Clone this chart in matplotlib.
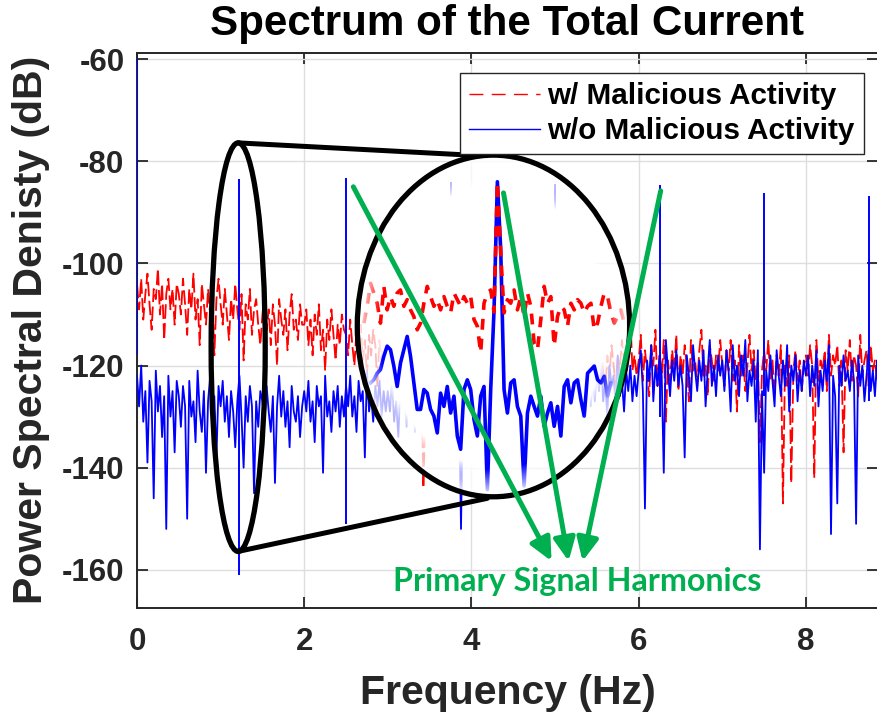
import numpy as np
import matplotlib
matplotlib.use('Agg')
import matplotlib.pyplot as plt
from matplotlib.patches import Ellipse
from matplotlib.lines import Line2D

plt.rcParams['font.family'] = ['Liberation Sans', 'DejaVu Sans']
plt.rcParams['font.weight'] = 'bold'
plt.rcParams['axes.unicode_minus'] = False

# ---- spectrum values (dB), one value every 0.025 Hz starting at 0 Hz ----
freq_step = 0.025
red_db = [
    -104, -109, -103, -111, -106, -102, -108, -113, -105, -107, -101, -110, -104, -115, -106, -103, -109, -105, -112, -104,
    -106, -110, -103, -108, -114, -105, -109, -102, -111, -107, -116, -104, -108, -112, -105, -110, -106, -118, -107, -103,
    -108, -112, -105, -110, -115, -107, -111, -104, -109, -113, -106, -119, -108, -111, -105, -114, -109, -107, -112, -116,
    -110, -106, -113, -109, -116, -108, -112, -120, -107, -111, -114, -109, -117, -110, -106, -113, -111, -115, -108, -112,
    -112, -109, -116, -111, -118, -110, -114, -108, -117, -113, -121, -111, -115, -109, -114, -119, -112, -116, -110, -113,
    -114, -118, -111, -116, -120, -113, -117, -112, -119, -115, -122, -114, -118, -113, -116, -124, -115, -119, -113, -117,
    -116, -120, -114, -118, -113, -121, -117, -115, -126, -118, -114, -119, -116, -122, -117, -115, -120, -144, -128, -116,
    -117, -121, -115, -119, -114, -123, -118, -116, -120, -117, -125, -115, -119, -118, -122, -116, -120, -117, -121, -118,
    -118, -122, -116, -120, -115, -124, -119, -117, -121, -118, -126, -116, -120, -119, -123, -117, -121, -118, -122, -119,
    -119, -123, -117, -121, -116, -125, -120, -118, -122, -119, -127, -117, -121, -120, -124, -118, -122, -119, -123, -120,
    -120, -116, -124, -118, -122, -119, -126, -117, -121, -115, -123, -120, -118, -125, -119, -122, -116, -121, -124, -118,
    -119, -123, -117, -121, -125, -118, -122, -116, -120, -124, -118, -121, -115, -119, -123, -117, -110, -121, -118, -122,
    -119, -114, -123, -117, -121, -126, -116, -120, -113, -124, -118, -122, -115, -131, -119, -123, -117, -121, -114, -125,
    -118, -122, -116, -120, -127, -115, -121, -119, -124, -117, -113, -122, -120, -126, -116, -119, -123, -118, -121, -115,
    -120, -124, -117, -121, -115, -123, -119, -129, -116, -122, -118, -125, -120, -114, -121, -117, -123, -119, -135, -121,
    -117, -121, -115, -123, -119, -126, -118, -122, -116, -147, -120, -124, -118, -143, -121, -117, -123, -119, -125, -120,
    -118, -122, -116, -120, -142, -115, -123, -119, -121, -117, -125, -114, -122, -118, -120, -116, -124, -119, -137, -117,
    -121, -115, -123, -118, -120, -126, -114, -122, -119, -117, -124, -116, -121, -119, -123, -118,
]
blue_db = [
    -122, -128, -120, -131, -125, -139, -123, -127, -146, -121, -129, -124, -134, -126, -152, -122, -130, -125, -137, -123,
    -126, -132, -124, -128, -150, -123, -130, -127, -135, -121, -129, -133, -125, -141, -127, -122, -131, -126, -138, -124,
    -128, -123, -131, -126, -134, -125, -129, -136, -127, -122, -130, -140, -126, -131, -124, -128, -145, -127, -132, -125,
    -127, -131, -124, -129, -133, -126, -143, -128, -122, -130, -125, -132, -127, -136, -124, -129, -131, -126, -134, -128,
    -125, -129, -123, -131, -127, -135, -124, -128, -126, -141, -122, -130, -127, -133, -125, -129, -124, -132, -126, -130,
    -124, -128, -122, -130, -126, -133, -123, -127, -125, -138, -121, -129, -126, -131, -124, -128, -123, -130, -125, -129,
    -125, -129, -123, -131, -127, -134, -124, -128, -126, -132, -122, -130, -127, -133, -125, -129, -124, -131, -126, -130,
    -124, -128, -122, -130, -126, -133, -123, -127, -125, -131, -121, -129, -126, -132, -124, -152, -123, -130, -125, -129,
    -126, -121, -130, -124, -128, -135, -123, -129, -125, -131, -127, -122, -133, -126, -130, -124, -128, -132, -125, -129,
    -123, -127, -121, -129, -125, -132, -122, -126, -124, -130, -120, -128, -125, -131, -123, -127, -122, -129, -124, -128,
    -122, -126, -120, -128, -124, -131, -121, -125, -123, -129, -119, -127, -124, -130, -122, -126, -121, -128, -123, -127,
    -121, -125, -119, -127, -123, -130, -120, -124, -122, -128, -118, -126, -123, -129, -121, -125, -120, -127, -122, -126,
    -121, -117, -125, -148, -119, -123, -116, -127, -120, -124, -118, -122, -141, -115, -121, -126, -119, -123, -117, -124,
    -120, -124, -138, -118, -122, -127, -116, -121, -125, -119, -123, -117, -128, -121, -115, -124, -120, -126, -118, -122,
    -119, -125, -117, -121, -129, -116, -123, -120, -126, -118, -122, -115, -127, -121, -124, -119, -131, -117, -156, -125,
    -141, -121, -125, -118, -123, -128, -117, -122, -126, -119, -124, -116, -129, -120, -123, -118, -127, -121, -125, -119,
    -122, -118, -126, -120, -124, -117, -128, -121, -125, -119, -123, -116, -153, -122, -126, -147, -120, -124, -118, -123,
    -121, -125, -119, -123, -151, -118, -124, -120, -127, -122, -117, -125, -121, -126, -119, -123,
]

# harmonic lines of the blue trace
spike_f = [0.0, 1.22, 2.5, 3.75, 5.0, 6.26, 7.5, 8.75]
spike_peak = [-60, -83.5, -83.3, -84.0, -84.5, -84.6, -86.2, -86.8]
spike_low = [-118, -161, -151, -128, -128, -130, -126, -127]

# magnified view of the 0.88-1.54 Hz region shown inside the big circle
zoom_red_f = (0.880, 1.543)
zoom_red_db = [
    -111.7, -108.4, -103.9, -105.8, -107.8, -111.7, -104.5, -109.1, -106.5, -108.4,
    -105.8, -105.2, -108.4, -107.1, -109.1, -110.4, -113.0, -111.7, -107.8, -104.5,
    -106.5, -108.4, -107.1, -109.1, -106.5, -108.4, -109.7, -105.8, -107.1, -108.4,
    -106.5, -107.8, -106.5, -111.0, -112.3, -117.5, -107.8, -105.8, -105.2, -109.5,
    -84.0, -98.0, -109.7, -107.1, -107.8, -105.2, -109.1, -106.5, -110.4, -105.8,
    -108.4, -115.6, -116.9, -111.0, -104.5, -107.8, -106.5, -116.2, -110.4, -108.4,
    -109.1, -112.3, -107.8, -109.1, -107.1, -107.8, -109.7, -108.4, -107.8, -113.0,
    -111.7, -108.4, -105.8, -106.5, -109.7, -111.7, -110.4, -109.1, -111.7,
]
zoom_blue_f = (0.897, 1.509)
zoom_blue_db = [
    -123.4, -122.8, -121.5, -120.8, -118.2, -116.2, -116.9, -120.1, -124.1, -119.5,
    -116.9, -114.3, -118.2, -123.4, -128.6, -128.6, -124.7, -125.4, -128.6, -129.9,
    -133.2, -125.4, -128.0, -124.1, -129.3, -126.0, -133.8, -136.4, -124.7, -122.8,
    -124.7, -130.6, -133.8, -126.0, -124.1, -144.3, -124.7, -109.1, -84.0, -97.3,
    -124.7, -129.3, -123.4, -122.8, -128.0, -129.9, -143.6, -129.3, -126.0, -128.0,
    -129.9, -126.0, -131.9, -129.3, -127.3, -131.9, -128.0, -133.8, -124.1, -122.8,
    -127.3, -123.4, -122.8, -126.7, -129.9, -121.5, -120.8, -120.1, -122.8, -123.4,
    -122.1, -126.0, -123.4,
]

labels = ['w/ Malicious Activity', 'w/o Malicious Activity']
x_ticks = [0, 2, 4, 6, 8]
y_ticks = [-160, -140, -120, -100, -80, -60]
xlim = (0, 8.862)
ylim = (-167.4, -58.8)

# layout of the magnifier drawing (main-axes data units)
big_c, big_w, big_h = (4.263, -112.25), 3.257, 66.9
small_c, small_w, small_h = (1.21, -116.4), 0.647, 80.0
mag, mag_src, mag_dst = 4.7, 1.22, 4.31
green = '#00b050'
dark = '#262626'

fig = plt.figure(figsize=(8.77, 7.17), dpi=100)
pos = [137 / 877, 1 - 607.6 / 717, 741 / 877, 554.6 / 717]

ax = fig.add_axes(pos)
freq = freq_step * np.arange(len(red_db))
ax.plot(freq, red_db, color='red', lw=1.3, dashes=(8, 2.5), zorder=2)
ax.plot(freq, blue_db, color='blue', lw=1.3, zorder=3)
ax.vlines(spike_f, spike_low, spike_peak, color='blue', lw=1.4, zorder=3)
ax.set_xlim(xlim)
ax.set_ylim(ylim)
ax.set_xticks(x_ticks)
ax.set_yticks(y_ticks)
ax.grid(True, color='#dedede', lw=1)
ax.tick_params(direction='in', length=8, width=1.3, top=True, right=True,
               labelsize=22.5, colors=dark, pad=9)
ax.tick_params(axis='x', pad=14)
for s in ax.spines.values():
    s.set_linewidth(1.4)
    s.set_color(dark)
ax.set_xlabel('Frequency (Hz)', fontsize=29.5, color=dark, fontweight='bold')
ax.set_ylabel('Power Spectral Denisty (dB)', fontsize=29.5, color=dark, fontweight='bold')
ax.xaxis.set_label_coords(0.5, -0.12)
ax.yaxis.set_label_coords(-0.118, 0.5)
ax.set_title('Spectrum of the Total Current', fontsize=30.3, color='black',
             fontweight='bold', y=1.032, pad=0)

# white cover under the magnified view, soft at the rim
n = 400
u = np.linspace(-1, 1, n)
U, V = np.meshgrid(u, u)
R = np.hypot(U, V)
ext = [big_c[0] - big_w / 2, big_c[0] + big_w / 2, big_c[1] - big_h / 2, big_c[1] + big_h / 2]

ax_cov = fig.add_axes(pos, frameon=False)
ax_cov.set_axis_off()
cover = np.ones((n, n, 4))
cover[..., 3] = np.clip((1 - R) / 0.18, 0, 1)
im = ax_cov.imshow(cover, extent=ext, origin='lower', aspect='auto', interpolation='bilinear')
im.set_clip_path(Ellipse(big_c, big_w, big_h, transform=ax_cov.transData))
ax_cov.set_xlim(xlim)
ax_cov.set_ylim(ylim)

# magnified traces
ax_mag = fig.add_axes(pos, frameon=False)
ax_mag.set_axis_off()
fb = np.linspace(zoom_blue_f[0], zoom_blue_f[1], len(zoom_blue_db))
fr = np.linspace(zoom_red_f[0], zoom_red_f[1], len(zoom_red_db))
lb, = ax_mag.plot(fb, zoom_blue_db, color='blue', lw=2.6)
lr, = ax_mag.plot(fr, zoom_red_db, color='red', lw=2.6, dashes=(3, 2.5))
ax_mag.set_xlim(mag_src + (xlim[0] - mag_dst) / mag, mag_src + (xlim[1] - mag_dst) / mag)
ax_mag.set_ylim(ylim)
for ln in (lb, lr):
    ln.set_clip_path(Ellipse(big_c, big_w, big_h, transform=ax_cov.transData))

# top layer: rim fade, magnifier outline, arrows, notes, legend
ax_top = fig.add_axes(pos, frameon=False)
ax_top.set_axis_off()
fade = np.ones((n, n, 4))
fade[..., 3] = np.clip((R - 0.84) / 0.14, 0, 1) * 0.85
im2 = ax_top.imshow(fade, extent=ext, origin='lower', aspect='auto', interpolation='bilinear')
im2.set_clip_path(Ellipse(big_c, big_w, big_h, transform=ax_top.transData))
ax_top.add_patch(Ellipse(big_c, big_w, big_h, fill=False, ec='black', lw=3.8))
ax_top.add_patch(Ellipse(small_c, small_w, small_h, fill=False, ec='black', lw=3.8))
ax_top.plot([small_c[0], 4.1], [small_c[1] + small_h / 2, -78.9], color='black', lw=3.6,
            solid_capstyle='round')
ax_top.plot([small_c[0], 4.19], [small_c[1] - small_h / 2, -146.0], color='black', lw=3.6,
            solid_capstyle='round')

arrows = [((2.587, -85.0), (4.958, -158.3)),
          ((4.383, -86.2), (5.162, -158.3)),
          ((6.263, -85.8), (5.329, -158.3))]
for start, tip in arrows:
    ax_top.annotate('', xy=tip, xytext=start,
                    arrowprops=dict(arrowstyle='-|>,head_length=0.8,head_width=0.38',
                                    color=green, lw=3.6, shrinkA=0, shrinkB=0,
                                    mutation_scale=17))
ax_top.text(5.26, -162.3, 'Primary Signal Harmonics', color=green, fontsize=23.2,
            fontweight='bold', family='Lato', ha='center', va='center')

h_red = Line2D([], [], color='red', lw=1.0, dashes=(10, 6))
h_blue = Line2D([], [], color='blue', lw=1.0)
leg = ax_top.legend([h_red, h_blue], labels, loc='upper left',
                    bbox_to_anchor=(460 / 877, 1 - 73 / 717), bbox_transform=fig.transFigure,
                    borderaxespad=0, fontsize=21.3, fancybox=False, framealpha=1,
                    edgecolor=dark, handlelength=2.4, handletextpad=0.25,
                    borderpad=0.3, labelspacing=0.25)
leg.get_frame().set_linewidth(1.0)
ax_top.set_xlim(xlim)
ax_top.set_ylim(ylim)

fig.savefig('out.png', dpi=100)
